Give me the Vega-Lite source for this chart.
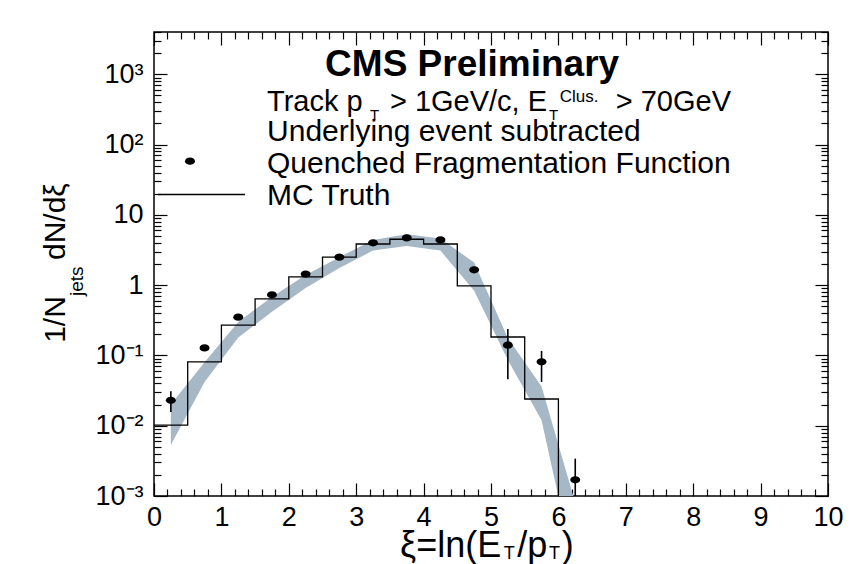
{
  "$schema": "https://vega.github.io/schema/vega-lite/v6.json",
  "width": 674,
  "height": 464,
  "autosize": {"type": "none"},
  "padding": {"left": 154, "top": 32, "right": 22, "bottom": 68},
  "background": "white",
  "config": {
    "font": "Liberation Sans",
    "view": {"stroke": "black", "strokeWidth": 1.5},
    "axis": {
      "domain": false,
      "grid": false,
      "labelFont": "Liberation Sans",
      "labelFontSize": 27,
      "labelColor": "black",
      "labelOverlap": false,
      "labelFlush": false,
      "tickColor": "black",
      "tickWidth": 1.2
    },
    "text": {"font": "Liberation Sans", "color": "black"}
  },
  "datasets": {
    "band": [
      {"xi": 0.25, "lo": 0.0053, "hi": 0.020},
      {"xi": 0.75, "lo": 0.042, "hi": 0.080},
      {"xi": 1.25, "lo": 0.18, "hi": 0.30},
      {"xi": 1.75, "lo": 0.42, "hi": 0.68},
      {"xi": 2.25, "lo": 0.91, "hi": 1.40},
      {"xi": 2.75, "lo": 1.76, "hi": 2.5},
      {"xi": 3.25, "lo": 3.1, "hi": 4.4},
      {"xi": 3.75, "lo": 3.6, "hi": 5.3},
      {"xi": 4.25, "lo": 3.1, "hi": 4.6},
      {"xi": 4.75, "lo": 0.83, "hi": 2.1},
      {"xi": 5.25, "lo": 0.086, "hi": 0.177},
      {"xi": 5.75, "lo": 0.012, "hi": 0.036},
      {"xi": 6.25, "lo": 0.00008, "hi": 0.0008}
    ],
    "mc": [
      {"xlo": 0.0, "v": 0.0102},
      {"xlo": 0.5, "v": 0.081},
      {"xlo": 1.0, "v": 0.27},
      {"xlo": 1.5, "v": 0.64},
      {"xlo": 2.0, "v": 1.31},
      {"xlo": 2.5, "v": 2.5},
      {"xlo": 3.0, "v": 3.85},
      {"xlo": 3.5, "v": 4.5},
      {"xlo": 4.0, "v": 3.85},
      {"xlo": 4.5, "v": 0.975},
      {"xlo": 5.0, "v": 0.183},
      {"xlo": 5.5, "v": 0.024},
      {"xlo": 6.0, "v": 0.00001}
    ],
    "points": [
      {"xi": 0.25, "v": 0.023, "lo": 0.0157, "hi": 0.031},
      {"xi": 0.75, "v": 0.128, "lo": 0.118, "hi": 0.139},
      {"xi": 1.25, "v": 0.35, "lo": 0.33, "hi": 0.37},
      {"xi": 1.75, "v": 0.73, "lo": 0.70, "hi": 0.76},
      {"xi": 2.25, "v": 1.44, "lo": 1.39, "hi": 1.49},
      {"xi": 2.75, "v": 2.5, "lo": 2.42, "hi": 2.58},
      {"xi": 3.25, "v": 4.0, "lo": 3.88, "hi": 4.12},
      {"xi": 3.75, "v": 4.7, "lo": 4.56, "hi": 4.84},
      {"xi": 4.25, "v": 4.4, "lo": 4.27, "hi": 4.53},
      {"xi": 4.75, "v": 1.65, "lo": 1.55, "hi": 1.75},
      {"xi": 5.25, "v": 0.14, "lo": 0.046, "hi": 0.238},
      {"xi": 5.75, "v": 0.081, "lo": 0.042, "hi": 0.116},
      {"xi": 6.25, "v": 0.0017, "lo": 0.0005, "hi": 0.0034}
    ],
    "heading": [
      {"t": "CMS Preliminary", "x": 4.72, "y": 1358}
    ],
    "notes": [
      {"t": "Underlying event subtracted", "x": 1.677, "y": 151},
      {"t": "Quenched Fragmentation Function", "x": 1.677, "y": 53},
      {"t": "MC Truth", "x": 1.677, "y": 18.6}
    ],
    "trackLine": [
      {"t": "Track p", "x": 1.677, "y": 404},
      {"t": "> 1GeV/c, E", "x": 3.5, "y": 404},
      {"t": "> 70GeV", "x": 6.85, "y": 404}
    ],
    "subscripts": [
      {"t": "T", "x": 3.205, "y": 264},
      {"t": "T", "x": 5.86, "y": 264}
    ],
    "superscripts": [
      {"t": "Clus.", "x": 6.02, "y": 476}
    ],
    "legendDot": [{"x": 0.534, "y": 58}],
    "legendLine": [{"x": 0.06, "x2": 1.35, "y": 19.5}],
    "xTitle": [
      {"t": "ξ=ln(E", "x": 3.65, "y": 0.000195},
      {"t": "/p", "x": 5.39, "y": 0.000195},
      {"t": ")", "x": 6.05, "y": 0.000195}
    ],
    "xTitleSub": [
      {"t": "T", "x": 5.19, "y": 0.000152},
      {"t": "T", "x": 5.86, "y": 0.000152}
    ],
    "yTitle": [
      {"t": "1/N", "x": -1.454, "y": 0.151},
      {"t": "dN/dξ", "x": -1.454, "y": 2.28}
    ],
    "yTitleSub": [
      {"t": "jets", "x": -1.142, "y": 0.70}
    ]
  },
  "layer": [
    {
      "data": {"name": "band"},
      "mark": {"type": "area", "orient": "vertical", "color": "#a6b7c6", "clip": true},
      "encoding": {
        "x": {
          "field": "xi", "type": "quantitative",
          "scale": {"domain": [0, 10], "nice": false, "zero": false},
          "axis": {
            "orient": "top", "title": null, "labels": false,
            "values": [0,0.2,0.4,0.6,0.8,1,1.2,1.4,1.6,1.8,2,2.2,2.4,2.6,2.8,3,3.2,3.4,3.6,3.8,4,4.2,4.4,4.6,4.8,5,5.2,5.4,5.6,5.8,6,6.2,6.4,6.6,6.8,7,7.2,7.4,7.6,7.8,8,8.2,8.4,8.6,8.8,9,9.2,9.4,9.6,9.8,10],
            "tickSize": {"condition": {"test": "abs(datum.value - round(datum.value)) < 0.001", "value": -13}, "value": -7}
          }
        },
        "y": {
          "field": "lo", "type": "quantitative",
          "scale": {"type": "log", "domain": [0.001, 4000], "nice": false},
          "axis": {
            "orient": "right", "title": null, "labels": false,
            "values": [0.001,0.002,0.003,0.004,0.005,0.006,0.007,0.008,0.009,0.01,0.02,0.03,0.04,0.05,0.06,0.07,0.08,0.09,0.1,0.2,0.3,0.4,0.5,0.6,0.7,0.8,0.9,1,2,3,4,5,6,7,8,9,10,20,30,40,50,60,70,80,90,100,200,300,400,500,600,700,800,900,1000,2000,3000,4000],
            "tickSize": {"condition": {"test": "abs(log(datum.value)/LN10 - round(log(datum.value)/LN10)) < 0.001", "value": -13}, "value": -7}
          }
        },
        "y2": {"field": "hi"}
      }
    },
    {
      "data": {"name": "mc"},
      "mark": {"type": "line", "interpolate": "step-after", "color": "black", "strokeWidth": 1.3, "clip": true},
      "encoding": {
        "x": {"field": "xlo", "type": "quantitative", "scale": {"domain": [0, 10], "nice": false, "zero": false}, "axis": null},
        "y": {"field": "v", "type": "quantitative", "scale": {"type": "log", "domain": [0.001, 4000], "nice": false}, "axis": null}
      }
    },
    {
      "data": {"name": "points"},
      "mark": {"type": "rule", "color": "black", "strokeWidth": 1.6, "clip": true},
      "encoding": {
        "x": {"field": "xi", "type": "quantitative", "scale": {"domain": [0, 10], "nice": false, "zero": false}, "axis": null},
        "y": {"field": "lo", "type": "quantitative", "scale": {"type": "log", "domain": [0.001, 4000], "nice": false}, "axis": null},
        "y2": {"field": "hi"}
      }
    },
    {
      "data": {"name": "points"},
      "mark": {"type": "point", "filled": true, "color": "black", "opacity": 1, "size": 100, "shape": "M-1,0A1,0.72,0,1,0,1,0A1,0.72,0,1,0,-1,0Z"},
      "encoding": {
        "x": {
          "field": "xi", "type": "quantitative",
          "scale": {"domain": [0, 10], "nice": false, "zero": false},
          "axis": {
            "orient": "bottom", "title": null,
            "values": [0,0.2,0.4,0.6,0.8,1,1.2,1.4,1.6,1.8,2,2.2,2.4,2.6,2.8,3,3.2,3.4,3.6,3.8,4,4.2,4.4,4.6,4.8,5,5.2,5.4,5.6,5.8,6,6.2,6.4,6.6,6.8,7,7.2,7.4,7.6,7.8,8,8.2,8.4,8.6,8.8,9,9.2,9.4,9.6,9.8,10],
            "labelExpr": "abs(datum.value - round(datum.value)) < 0.001 ? format(datum.value, 'd') : ''",
            "tickSize": {"condition": {"test": "abs(datum.value - round(datum.value)) < 0.001", "value": -13}, "value": -7},
            "labelPadding": 21
          }
        },
        "y": {
          "field": "v", "type": "quantitative",
          "scale": {"type": "log", "domain": [0.001, 4000], "nice": false},
          "axis": {
            "orient": "left", "title": null,
            "values": [0.001,0.002,0.003,0.004,0.005,0.006,0.007,0.008,0.009,0.01,0.02,0.03,0.04,0.05,0.06,0.07,0.08,0.09,0.1,0.2,0.3,0.4,0.5,0.6,0.7,0.8,0.9,1,2,3,4,5,6,7,8,9,10,20,30,40,50,60,70,80,90,100,200,300,400,500,600,700,800,900,1000,2000,3000,4000],
            "labelExpr": "abs(log(datum.value)/LN10 - round(log(datum.value)/LN10)) > 0.001 ? '' : round(log(datum.value)/LN10) == 3 ? '10³' : round(log(datum.value)/LN10) == 2 ? '10²' : round(log(datum.value)/LN10) == 1 ? '10' : round(log(datum.value)/LN10) == 0 ? '1' : round(log(datum.value)/LN10) == -1 ? '10⁻¹' : round(log(datum.value)/LN10) == -2 ? '10⁻²' : '10⁻³'",
            "tickSize": {"condition": {"test": "abs(log(datum.value)/LN10 - round(log(datum.value)/LN10)) < 0.001", "value": -13}, "value": -7},
            "labelPadding": 24
          }
        }
      }
    },
    {
      "data": {"name": "legendDot"},
      "mark": {"type": "point", "filled": true, "color": "black", "opacity": 1, "size": 100, "shape": "M-1,0A1,0.72,0,1,0,1,0A1,0.72,0,1,0,-1,0Z"},
      "encoding": {
        "x": {"field": "x", "type": "quantitative", "scale": {"domain": [0, 10], "nice": false, "zero": false}, "axis": null},
        "y": {"field": "y", "type": "quantitative", "scale": {"type": "log", "domain": [0.001, 4000], "nice": false}, "axis": null}
      }
    },
    {
      "data": {"name": "legendLine"},
      "mark": {"type": "rule", "color": "black", "strokeWidth": 1.3},
      "encoding": {
        "x": {"field": "x", "type": "quantitative", "scale": {"domain": [0, 10], "nice": false, "zero": false}, "axis": null},
        "x2": {"field": "x2"},
        "y": {"field": "y", "type": "quantitative", "scale": {"type": "log", "domain": [0.001, 4000], "nice": false}, "axis": null}
      }
    },
    {
      "data": {"name": "heading"},
      "mark": {"type": "text", "fontSize": 37, "fontWeight": "bold", "align": "center", "baseline": "middle"},
      "encoding": {
        "x": {"field": "x", "type": "quantitative", "scale": {"domain": [0, 10], "nice": false, "zero": false}, "axis": null},
        "y": {"field": "y", "type": "quantitative", "scale": {"type": "log", "domain": [0.001, 4000], "nice": false}, "axis": null},
        "text": {"field": "t"}
      }
    },
    {
      "data": {"name": "notes"},
      "mark": {"type": "text", "fontSize": 30, "align": "left", "baseline": "middle"},
      "encoding": {
        "x": {"field": "x", "type": "quantitative", "scale": {"domain": [0, 10], "nice": false, "zero": false}, "axis": null},
        "y": {"field": "y", "type": "quantitative", "scale": {"type": "log", "domain": [0.001, 4000], "nice": false}, "axis": null},
        "text": {"field": "t"}
      }
    },
    {
      "data": {"name": "trackLine"},
      "mark": {"type": "text", "fontSize": 29, "align": "left", "baseline": "middle"},
      "encoding": {
        "x": {"field": "x", "type": "quantitative", "scale": {"domain": [0, 10], "nice": false, "zero": false}, "axis": null},
        "y": {"field": "y", "type": "quantitative", "scale": {"type": "log", "domain": [0.001, 4000], "nice": false}, "axis": null},
        "text": {"field": "t"}
      }
    },
    {
      "data": {"name": "subscripts"},
      "mark": {"type": "text", "fontSize": 15, "align": "left", "baseline": "middle"},
      "encoding": {
        "x": {"field": "x", "type": "quantitative", "scale": {"domain": [0, 10], "nice": false, "zero": false}, "axis": null},
        "y": {"field": "y", "type": "quantitative", "scale": {"type": "log", "domain": [0.001, 4000], "nice": false}, "axis": null},
        "text": {"field": "t"}
      }
    },
    {
      "data": {"name": "superscripts"},
      "mark": {"type": "text", "fontSize": 17, "align": "left", "baseline": "middle"},
      "encoding": {
        "x": {"field": "x", "type": "quantitative", "scale": {"domain": [0, 10], "nice": false, "zero": false}, "axis": null},
        "y": {"field": "y", "type": "quantitative", "scale": {"type": "log", "domain": [0.001, 4000], "nice": false}, "axis": null},
        "text": {"field": "t"}
      }
    },
    {
      "data": {"name": "xTitle"},
      "mark": {"type": "text", "fontSize": 36, "align": "left", "baseline": "middle"},
      "encoding": {
        "x": {"field": "x", "type": "quantitative", "scale": {"domain": [0, 10], "nice": false, "zero": false}, "axis": null},
        "y": {"field": "y", "type": "quantitative", "scale": {"type": "log", "domain": [0.001, 4000], "nice": false}, "axis": null},
        "text": {"field": "t"}
      }
    },
    {
      "data": {"name": "xTitleSub"},
      "mark": {"type": "text", "fontSize": 18, "align": "left", "baseline": "middle"},
      "encoding": {
        "x": {"field": "x", "type": "quantitative", "scale": {"domain": [0, 10], "nice": false, "zero": false}, "axis": null},
        "y": {"field": "y", "type": "quantitative", "scale": {"type": "log", "domain": [0.001, 4000], "nice": false}, "axis": null},
        "text": {"field": "t"}
      }
    },
    {
      "data": {"name": "yTitle"},
      "mark": {"type": "text", "fontSize": 30, "align": "left", "baseline": "middle", "angle": 270},
      "encoding": {
        "x": {"field": "x", "type": "quantitative", "scale": {"domain": [0, 10], "nice": false, "zero": false}, "axis": null},
        "y": {"field": "y", "type": "quantitative", "scale": {"type": "log", "domain": [0.001, 4000], "nice": false}, "axis": null},
        "text": {"field": "t"}
      }
    },
    {
      "data": {"name": "yTitleSub"},
      "mark": {"type": "text", "fontSize": 19, "align": "left", "baseline": "middle", "angle": 270},
      "encoding": {
        "x": {"field": "x", "type": "quantitative", "scale": {"domain": [0, 10], "nice": false, "zero": false}, "axis": null},
        "y": {"field": "y", "type": "quantitative", "scale": {"type": "log", "domain": [0.001, 4000], "nice": false}, "axis": null},
        "text": {"field": "t"}
      }
    }
  ],
  "resolve": {"axis": {"x": "independent", "y": "independent"}}
}
